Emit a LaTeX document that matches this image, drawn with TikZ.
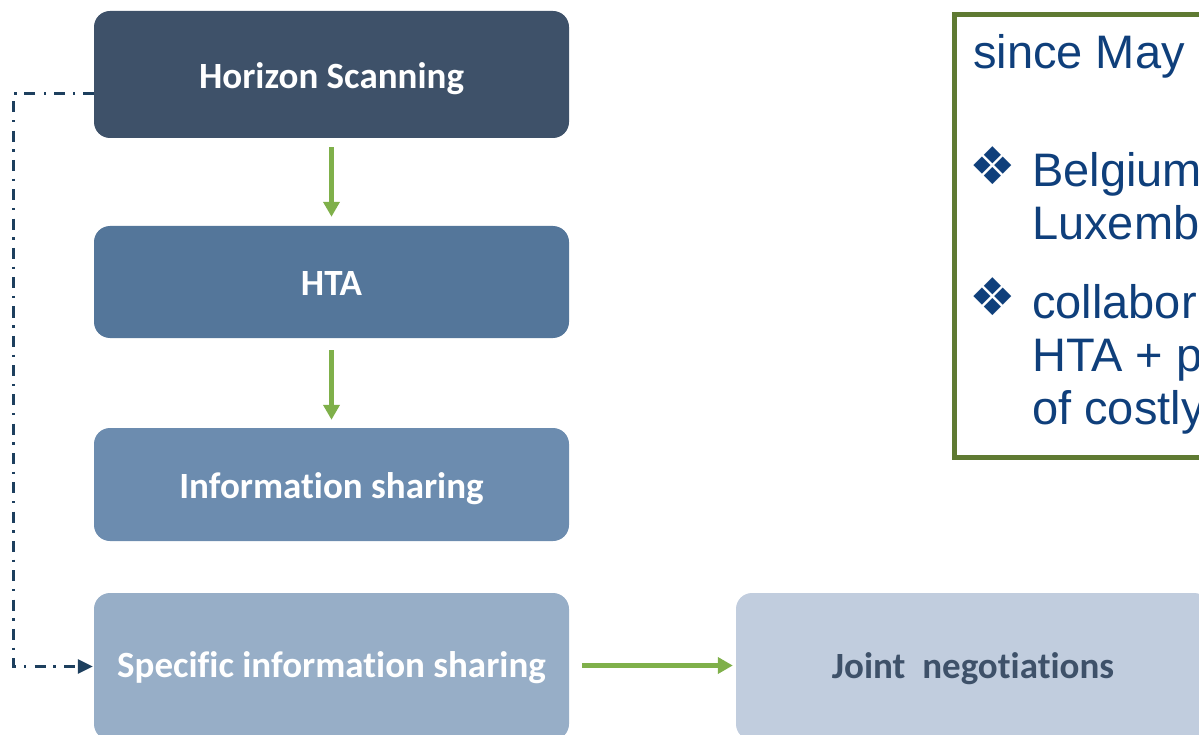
\documentclass[tikz,border=0pt]{standalone}
\usepackage{fontspec}
\setmainfont{Liberation Sans}
\newfontfamily\calib[Ligatures=NoCommon]{Carlito}
\newfontfamily\dejavu{DejaVu Sans}
\usetikzlibrary{arrows.meta,positioning}
\definecolor{hsC}{HTML}{3E5169}
\definecolor{htaC}{HTML}{54769A}
\definecolor{isC}{HTML}{6C8CAF}
\definecolor{sisC}{HTML}{97AEC7}
\definecolor{jnC}{HTML}{C1CDDE}
\definecolor{arrG}{HTML}{7FB04A}
\definecolor{brdG}{HTML}{5F7A32}
\definecolor{txtB}{HTML}{0F3F7B}
\definecolor{dashC}{HTML}{1D3F5E}
\tikzset{
  box/.style={rounded corners=16pt, inner sep=0pt, minimum width=475pt,
    text=white, text height=28pt, text depth=0pt,
    font=\calib\bfseries\fontsize{37}{44}\selectfont},
  greenarrow/.style={draw=arrG, line width=5pt, -{Triangle[length=15pt,width=16pt]}},
  dashdot/.style={draw=dashC, line width=2.7pt,
    dash pattern=on 11pt off 7.7pt on 2.3pt off 8.3pt,
    -{Triangle[length=15pt,width=14pt]}},
  bodytext/.style={anchor=base west, inner sep=0pt, text=txtB,
    font=\fontsize{47}{54}\selectfont},
  bulletmark/.style={anchor=center, inner sep=0pt, text=txtB,
    font=\dejavu\fontsize{52}{60}\selectfont}
}
\begin{document}
\begin{tikzpicture}[x=1pt,y=-1pt]
\useasboundingbox (0,0) rectangle (1199,735);
\clip (0,0) rectangle (1199,735);
% boxes
\node[box, fill=hsC, minimum height=127pt] (hs) at (331.5,74.5) {Horizon Scanning};
\node[box, fill=htaC, minimum height=112pt] (hta) at (331.5,282) {HTA};
\node[box, fill=isC, minimum height=113pt] (is) at (331.5,484.5) {Information sharing};
\node[box, fill=sisC, minimum height=147pt, text height=24pt, text depth=3pt] (sis) at (331.5,666.5) {Specific information sharing};
\node[box, fill=jnC, minimum width=474pt, minimum height=147pt, text height=24pt, text depth=0pt, text=hsC] (jn) at (973,666.5) {Joint\ \ negotiations};
% arrows
\draw[greenarrow, shorten <=9pt, shorten >=9pt] (hs) -- (hta);
\draw[greenarrow, shorten <=12pt, shorten >=8pt] (hta) -- (is);
\draw[greenarrow, shorten <=13pt, shorten >=3pt] ([yshift=1pt]sis.east) -- ([yshift=1pt]jn.west);
\draw[dashdot] ([yshift=-19pt]hs.west) -- ++(-80,0) |- ([xshift=-1pt,yshift=0pt]sis.west);
% text box
\node[draw=brdG, line width=4.5pt, minimum width=310pt, minimum height=442.5pt, inner sep=0pt, anchor=north west] (tb) at (952,12.5) {};
\node[bodytext] (t0) at (973,69) {since May};
\node[bulletmark] (b1) at (992.5,166) {❖};
\node[bodytext] (t1) at (1032,187) {Belgium};
\node[bodytext] (t2) at (1032,240) {Luxemb};
\node[bulletmark] (b2) at (992.5,297) {❖};
\node[bodytext] (t3) at (1032,318) {collabor};
\node[bodytext] (t4) at (1032,371) {HTA + p};
\node[bodytext] (t5) at (1032,424) {of costly};
\end{tikzpicture}
\end{document}
